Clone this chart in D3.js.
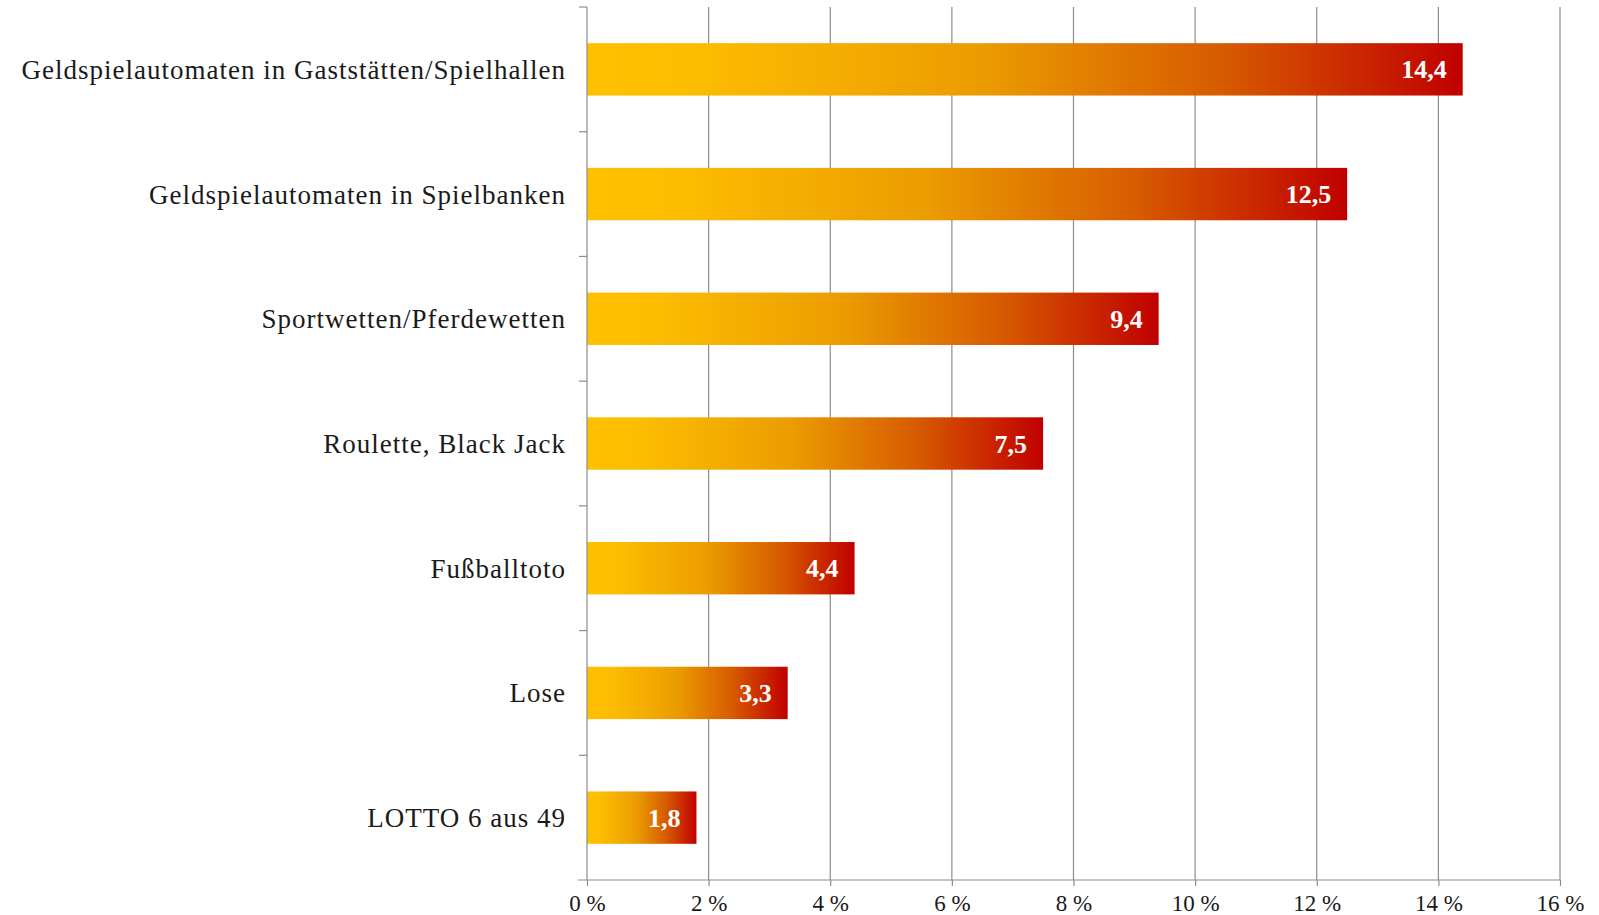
<!DOCTYPE html>
<html>
<head>
<meta charset="utf-8">
<script src="https://cdn.jsdelivr.net/npm/d3@7"></script>
<style>
  html, body { margin: 0; padding: 0; background: #fff; }
  svg { display: block; }
  text { font-family: "Liberation Serif", "Times New Roman", serif; }
</style>
</head>
<body>
<svg id="chart" width="1599" height="915"></svg>
<script>
// Share of problem gamblers by type of game (percent)
const categories = [
  "Geldspielautomaten in Gaststätten/Spielhallen",
  "Geldspielautomaten in Spielbanken",
  "Sportwetten/Pferdewetten",
  "Roulette, Black Jack",
  "Fußballtoto",
  "Lose",
  "LOTTO 6 aus 49"
];
const values = [14.4, 12.5, 9.4, 7.5, 4.4, 3.3, 1.8];
const xTicks = [0, 2, 4, 6, 8, 10, 12, 14, 16];

const svg = d3.select("#chart");
const plotLeft = 587, plotRight = 1560, plotTop = 7, plotBottom = 880;
const axisColor = "#8c8c8c";

const x = d3.scaleLinear().domain([0, 16]).range([plotLeft, plotRight]);
const y = d3.scaleBand().domain(categories).range([plotTop, plotBottom])
  .paddingInner(0.58).paddingOuter(0.29);

// Horizontal gradient: yellow -> orange -> dark red, spanning each bar
const defs = svg.append("defs");
const grad = defs.append("linearGradient")
  .attr("id", "barGrad")
  .attr("x1", "0%").attr("x2", "100%").attr("y1", "0%").attr("y2", "0%");
[
  [0, "#ffc000"], [0.12, "#fcbd00"], [0.45, "#eb9c00"],
  [0.72, "#d75c00"], [1, "#c00000"]
].forEach(([o, c]) => grad.append("stop").attr("offset", o).attr("stop-color", c));

// Vertical gridlines
svg.append("g").selectAll("line")
  .data(xTicks.filter(d => d > 0))
  .join("line")
  .attr("x1", d => x(d)).attr("x2", d => x(d))
  .attr("y1", plotTop).attr("y2", plotBottom)
  .attr("stroke", axisColor).attr("stroke-width", 1.2);

// Bars
svg.append("g").selectAll("rect")
  .data(values)
  .join("rect")
  .attr("x", x(0))
  .attr("y", (d, i) => y(categories[i]))
  .attr("width", d => x(d) - x(0))
  .attr("height", y.bandwidth())
  .attr("fill", "url(#barGrad)");

// Value labels inside the bar ends
svg.append("g").selectAll("text")
  .data(values)
  .join("text")
  .attr("x", d => x(d) - 16)
  .attr("y", (d, i) => y(categories[i]) + y.bandwidth() / 2)
  .attr("dy", "0.35em")
  .attr("text-anchor", "end")
  .attr("fill", "#fff")
  .attr("font-weight", "bold")
  .attr("font-size", 26)
  .text(d => d3.format(".1f")(d).replace(".", ","));

// Y axis: line with ticks at band boundaries
const yAxis = svg.append("g");
yAxis.append("line")
  .attr("x1", plotLeft).attr("x2", plotLeft).attr("y1", plotTop).attr("y2", plotBottom)
  .attr("stroke", axisColor).attr("stroke-width", 1.2);
yAxis.selectAll("line.tick")
  .data(d3.range(categories.length))
  .join("line").attr("class", "tick")
  .attr("x1", plotLeft - 8).attr("x2", plotLeft)
  .attr("y1", i => plotTop + i * y.step())
  .attr("y2", i => plotTop + i * y.step())
  .attr("stroke", axisColor).attr("stroke-width", 1.2);
yAxis.selectAll("text")
  .data(categories)
  .join("text")
  .attr("x", plotLeft - 21)
  .attr("y", d => y(d) + y.bandwidth() / 2)
  .attr("dy", "0.35em")
  .attr("text-anchor", "end")
  .attr("fill", "#1a1a1a")
  .attr("font-size", 27)
  .attr("letter-spacing", "1px")
  .text(d => d);

// X axis
const xAxis = svg.append("g")
  .attr("transform", `translate(0,${plotBottom})`)
  .call(d3.axisBottom(x).tickValues(xTicks).tickSize(6).tickPadding(9)
    .tickFormat(d => d + " %"));
xAxis.select(".domain")
  .attr("d", `M${plotLeft - 9},0H${plotRight}`)
  .attr("stroke", axisColor).attr("stroke-width", 1.2);
xAxis.selectAll(".tick line").attr("stroke", axisColor).attr("stroke-width", 1.2);
xAxis.selectAll(".tick text")
  .attr("font-family", "Liberation Serif, serif")
  .attr("font-size", 23)
  .attr("fill", "#1a1a1a");
</script>
</body>
</html>
